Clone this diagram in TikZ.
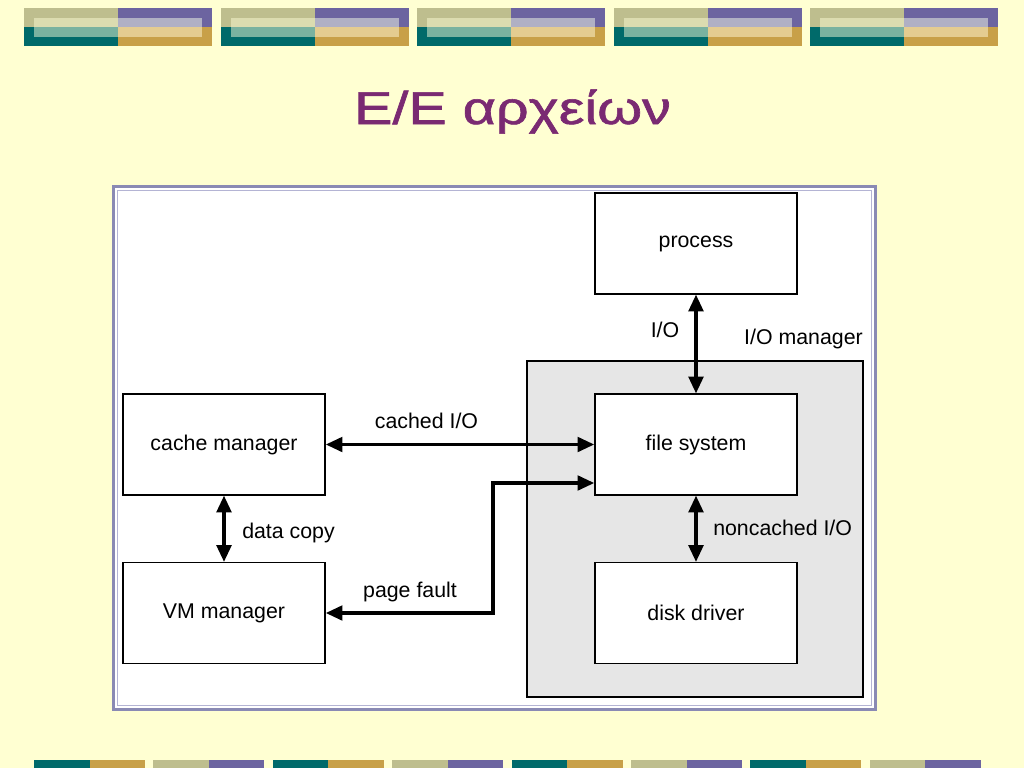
\documentclass[tikz,border=0pt]{standalone}
\usepackage{fontspec}
\setmainfont{Liberation Sans}
\newfontfamily\titlefont[FakeBold=1.2]{Liberation Sans}
\usepackage{xcolor}
\usepackage{graphicx}
\usepackage{tikz}
\usetikzlibrary{arrows.meta,backgrounds,calc}

\definecolor{slidebg}{HTML}{FFFFD2}
\definecolor{titlepurple}{HTML}{7A2A72}
\definecolor{barolive}{HTML}{BEBE8E}
\definecolor{barpurple}{HTML}{6C64A0}
\definecolor{barteal}{HTML}{006A6A}
\definecolor{bargold}{HTML}{C8A048}
\definecolor{lightolive}{HTML}{DCDCB0}
\definecolor{lightpurple}{HTML}{B0B0C4}
\definecolor{lightteal}{HTML}{7AB2A0}
\definecolor{lightgold}{HTML}{E4CC90}
\definecolor{framepurple}{HTML}{8A8AB4}
\definecolor{framelight}{HTML}{B4B4D4}
\definecolor{iogray}{HTML}{E6E6E6}

\begin{document}
\begin{tikzpicture}[x=0.75pt,y=-0.75pt,
  font=\fontsize{16}{19}\selectfont,
  box/.style={draw,line width=1.2pt,fill=white,inner sep=0pt,
    minimum width=151.5pt,minimum height=75.5pt},
  link/.style={line width=2.4pt,
    {Triangle[length=12.5pt,width=11pt]}-{Triangle[length=12.5pt,width=11pt]}},
  lbl/.style={inner sep=0pt}]
\useasboundingbox (0,0) rectangle (1024,768);
\fill[slidebg] (0,0) rectangle (1024,768);
% top bars
\foreach \bx in {24,220.5,417,613.5,810} {
  \fill[barolive] (\bx,8) rectangle ++(94,19);
  \fill[barpurple] (\bx+94,8) rectangle ++(94,19);
  \fill[barteal] (\bx,27) rectangle ++(94,19);
  \fill[bargold] (\bx+94,27) rectangle ++(94,19);
  \fill[lightolive] (\bx+10,18) rectangle ++(84,9);
  \fill[lightpurple] (\bx+94,18) rectangle ++(84,9);
  \fill[lightteal] (\bx+10,27) rectangle ++(84,10);
  \fill[lightgold] (\bx+94,27) rectangle ++(84,10);
}
% bottom bars
\foreach \bx in {34,272.8,511.6,750.4} {
  \fill[barteal] (\bx,760) rectangle ++(55.5,8);
  \fill[bargold] (\bx+55.5,760) rectangle ++(55.5,8);
}
\foreach \bx in {153.4,392.2,631,869.8} {
  \fill[barolive] (\bx,760) rectangle ++(55.5,8);
  \fill[barpurple] (\bx+55.5,760) rectangle ++(55.5,8);
}
% title
\node[lbl,anchor=base,text=titlepurple,font=\titlefont\fontsize{34.5}{40}\selectfont]
  (title) at (512.5,124) {\scalebox{1.25}[1]{Ε/Ε αρχείων}};
% frame
\fill[white] (112,185) rectangle (877,711);
\draw[framepurple,line width=2.25pt] (113.5,186.5) rectangle (875.5,709.5);
\draw[framelight,line width=1pt] (117.5,190.5) rectangle (871.5,705.5);
% I/O manager area
\draw[fill=iogray,line width=1.2pt] (527,361) rectangle (863,697);
% boxes
\node[box] (proc) at (696,243.5) {process};
\node[box] (fs) at (696,444.5) {file system};
\node[box] (disk) at (696,613) {disk driver};
\node[box] (cache) at (224,444.5) {cache manager};
\node[box] (vm) at (224,613) {VM manager};
% connectors
\draw[link] (proc) -- (fs);
\draw[link] (cache) -- (fs);
\draw[link] (cache) -- (vm);
\draw[link] (fs) -- (disk);
\coordinate (pfbend) at (493,483);
\draw[link] (vm.east) -| (pfbend) -- (pfbend -| fs.west);
% labels
\node[lbl,anchor=base] (lio) at (665,337) {I/O};
\node[lbl,anchor=base] (liomgr) at (803.5,344) {I/O manager};
\node[lbl,anchor=base] (lcached) at (426.5,428) {cached I/O};
\node[lbl,anchor=base] (lpage) at (410,597) {page fault};
\node[lbl,anchor=base west] (ldata) at (242,538) {data copy};
\node[lbl,anchor=base west] (lnoncached) at (713,535) {noncached I/O};
\end{tikzpicture}
\end{document}
